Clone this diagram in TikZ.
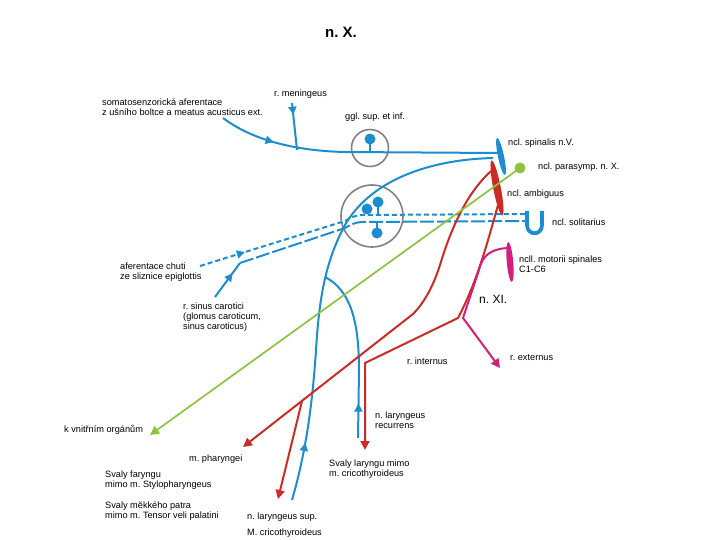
\documentclass[tikz,border=0pt]{standalone}
\usepackage{fontspec}
\setmainfont{Liberation Sans}
\usetikzlibrary{arrows.meta,decorations.markings}
\definecolor{nblue}{RGB}{28,142,208}
\definecolor{nred}{RGB}{205,43,38}
\definecolor{ngreen}{RGB}{140,196,62}
\definecolor{nmag}{RGB}{212,30,124}
\definecolor{ngray}{RGB}{130,130,130}
\frenchspacing
\begin{document}
\begin{tikzpicture}[x=1pt,y=-1pt,
    nerve/.style={line width=2pt},
    lbl/.style={font=\fontsize{9.2}{10}\selectfont, anchor=west, align=left, inner sep=0pt},
    inarrow/.style={postaction={decorate},
        decoration={markings,mark=at position #1 with {\arrow{Triangle[length=8pt,width=8pt]}}}},
    tip/.style={-{Triangle[length=9pt,width=9pt]}},
    ggl/.style={ngray, line width=1.6pt}]
    \useasboundingbox (0,0) rectangle (720,540);
    \node[font=\bfseries\fontsize{15}{18}\selectfont] (title) at (341,32) {n. X.};

    % nuclei
    \coordinate (spin) at (501,156.5);
    \coordinate (ambi) at (497,188);
    \coordinate (para) at (520,168);
    \coordinate (moto) at (510,262);
    \fill[nblue, rotate around={-78:(spin)}] (spin) ellipse [x radius=19, y radius=3];
    \fill[nred, rotate around={-79:(ambi)}] (ambi) ellipse [x radius=28, y radius=3.8];
    \fill[nmag, rotate around={-85:(moto)}] (moto) ellipse [x radius=20, y radius=3.2];
    \draw[nblue, line width=3.8pt] (527,211) -- (527,225) .. controls (527,236) and (542,236) .. (542,225) -- (542,211);

    % ganglia
    \coordinate (gup) at (370,148);
    \coordinate (glo) at (372,216);
    \draw[ggl] (gup) circle [radius=18.5];
    \draw[ggl] (glo) circle [radius=31];

    % upper blue
    \coordinate (soma0) at (223,118);
    \coordinate (soma1) at (345,152);
    \coordinate (men0) at (292,103);
    \coordinate (men1) at (297,150);
    \draw[nblue, nerve, inarrow=0.2] (soma0) .. controls (255,142) and (300,151) .. (soma1) -- (498,153);
    \draw[nblue, nerve, inarrow=0.25] (men0) -- (men1);
    \draw[nblue, nerve] (370,139) -- (370,152);
    \fill[nblue] (370,139) circle [radius=5.5];

    % long blue
    \coordinate (bot) at (292,500);
    \coordinate (fork) at (325,277);
    \coordinate (brend) at (358,438);
    \draw[nblue, nerve, inarrow=0.13] (bot) .. controls (305,455) and (312,410) .. (316,350)
        .. controls (319,300) and (325,262) .. (345,225) .. controls (368,185) and (420,160) .. (493,158);
    \draw[nblue, nerve, inarrow=0.2] (brend) -- (359,370) .. controls (359,320) and (350,290) .. (fork);

    % solitarius
    \coordinate (chuti0) at (200,266);
    \coordinate (sin0) at (215,297);
    \coordinate (sin1) at (240,263);
    \draw[nblue, nerve, dash pattern=on 5pt off 3pt, inarrow=0.14] (chuti0) -- (345,221) .. controls (352,217) and (356,215) .. (363,215) -- (527,214);
    \draw[nblue, nerve, inarrow=0.7] (sin0) -- (sin1);
    \draw[nblue, nerve, dash pattern=on 14pt off 3pt] (sin1) -- (345,228) .. controls (352,224) and (356,222) .. (363,222) -- (527,221);
    \draw[nblue, nerve] (378,202) -- (378,214);
    \draw[nblue, nerve] (377,233) -- (377,222);
    \fill[nblue] (367,209) circle [radius=5.5];
    \fill[nblue] (378,202) circle [radius=5.5];
    \fill[nblue] (377,233) circle [radius=5.5];

    % red
    \coordinate (pha0) at (413,314);
    \coordinate (phaend) at (243,447);
    \coordinate (supfork) at (302,401);
    \coordinate (supend) at (278,499);
    \coordinate (rec0) at (458,318);
    \coordinate (rec1) at (365,363);
    \coordinate (recend) at (365,450);
    \draw[nred, nerve, tip] (491,171) .. controls (468,192) and (452,225) .. (440,265)
        .. controls (432,290) and (422,305) .. (pha0) -- (phaend);
    \draw[nred, nerve, tip] (supfork) -- (supend);
    \draw[nred, nerve, tip] (498,205) .. controls (488,240) and (478,280) .. (rec0) -- (rec1) -- (recend);

    % green
    \draw[ngreen, line width=1.7pt, tip] (para) -- (150,435);
    \fill[ngreen] (para) circle [radius=5.5];

    % magenta
    \draw[nmag, nerve, tip] (507,248) .. controls (492,249) and (482,255) .. (479,270) -- (463,318) -- (500,368);

    % labels
    \node[lbl] (soma) at (102,107) {somatosenzorická aferentace\\z ušního boltce a meatus acusticus ext.};
    \node[lbl] (mening) at (274,94) {r. meningeus};
    \node[lbl] (ggllbl) at (345,117) {ggl. sup. et inf.};
    \node[lbl] (spinlbl) at (508,143) {ncl. spinalis n.V.};
    \node[lbl] (paralbl) at (538,167) {ncl. parasymp. n. X.};
    \node[lbl] (ambilbl) at (507,194) {ncl. ambiguus};
    \node[lbl] (solilbl) at (552,222) {ncl. solitarius};
    \node[lbl] (chuti) at (120,272) {aferentace chuti\\ze sliznice epiglottis};
    \node[lbl] (sinus) at (183,317) {r. sinus carotici\\(glomus caroticum,\\sinus caroticus)};
    \node[lbl] (motlbl) at (519,264) {ncll. motorii spinales\\C1-C6};
    \node[lbl, font=\fontsize{12}{14}\selectfont] (xi) at (479,299) {n. XI.};
    \node[lbl] (extern) at (510,358) {r. externus};
    \node[lbl] (intern) at (407,361) {r. internus};
    \node[lbl] (recur) at (375,420) {n. laryngeus\\recurrens};
    \node[lbl] (laryn) at (329,469) {Svaly laryngu mimo\\m. cricothyroideus};
    \node[lbl] (organ) at (64,430) {k vnitřním orgánům};
    \node[lbl] (phar) at (189,459) {m. pharyngei};
    \node[lbl] (faryn) at (105,480) {Svaly faryngu\\mimo m. Stylopharyngeus};
    \node[lbl] (patra) at (105,511) {Svaly měkkého patra\\mimo m. Tensor veli palatini};
    \node[lbl] (larsup) at (247,517) {n. laryngeus sup.};
    \node[lbl] (crico) at (247,533) {M. cricothyroideus};
\end{tikzpicture}
\end{document}
